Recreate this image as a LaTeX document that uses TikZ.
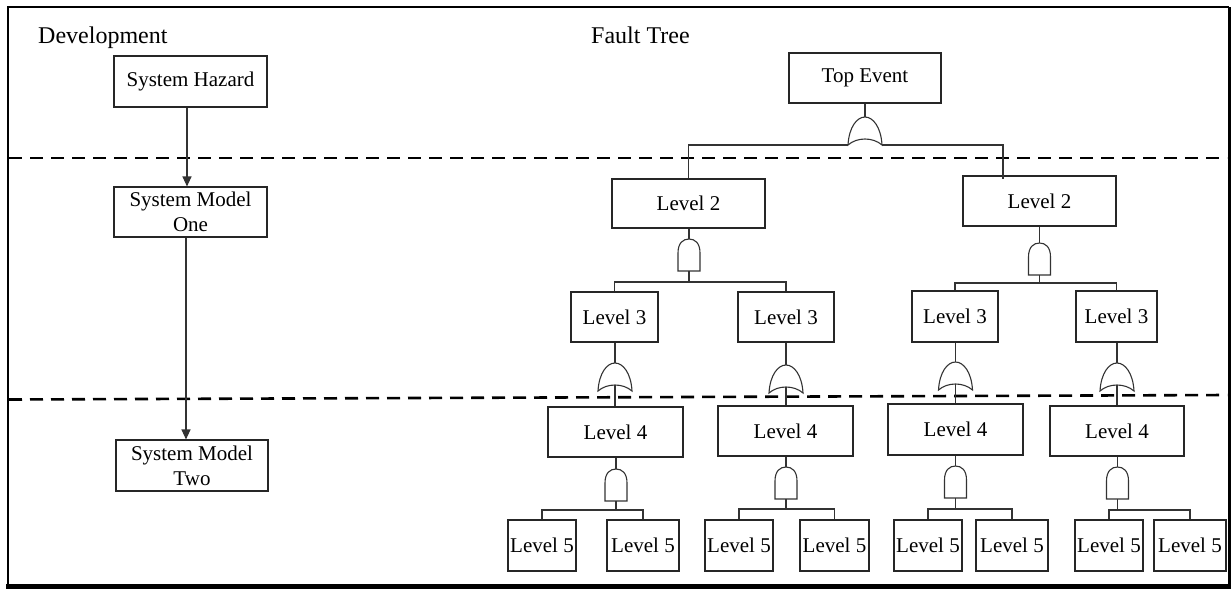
\documentclass[tikz,border=0pt]{standalone}
\usepackage{fontspec}
\setmainfont{Liberation Serif}
\usetikzlibrary{arrows.meta}
\tikzset{
  box/.style={draw=black!85, line width=1.1pt, inner sep=0pt, align=center,
    font=\fontsize{21}{25}\selectfont},
  head/.style={anchor=base west, inner sep=0pt, font=\fontsize{24}{28}\selectfont},
  conn/.style={draw=black!80, line width=1.1pt},
  gate/.style={draw=black!80, line width=1.1pt, fill=white},
  arr/.style={conn, -{Triangle[length=10pt,width=9pt]}},
  sep/.style={draw=black, line width=2.6pt, dash pattern=on 13pt off 8pt},
  orgate/.pic={
    \path[gate] (-17,28) .. controls (-16,10) and (-8,0) .. (0,0)
      .. controls (8,0) and (16,10) .. (17,28)
      .. controls (8,20) and (-8,20) .. (-17,28) -- cycle;
    \coordinate (-in) at (0,0);
    \coordinate (-out) at (0,22);
    \coordinate (-bl) at (-17,28);
    \coordinate (-br) at (17,28);
  },
  andgate/.pic={
    \path[gate] (-11,32) -- (-11,14) .. controls (-11,4) and (-6,0) .. (0,0)
      .. controls (6,0) and (11,4) .. (11,14) -- (11,32) -- cycle;
    \coordinate (-in) at (0,0);
    \coordinate (-out) at (0,32);
  }
}
\begin{document}
\begin{tikzpicture}[x=1pt,y=-1pt]
\useasboundingbox (0,0) rectangle (1231,590);
\fill[white] (0,0) rectangle (1231,590);
% frame
\draw[line width=2pt] (8,586) -- (8,7) -- (1229,7);
\draw[line width=3pt] (1229,7) -- (1229,586);
\draw[line width=4.5pt] (6,586.5) -- (1230.5,586.5);
% separators
\draw[sep] (9,158) -- (1227,158);
\draw[sep] (9,399.5) -- (1227,395);
% headings
\node[head] (hdev) at (38,43) {Development};
\node[head] (hft) at (591,43) {Fault Tree};
% development column
\node[box, minimum width=153pt, minimum height=51pt] (SH) at (190.5,81.5) {System Hazard};
\node[box, minimum width=153pt, minimum height=50pt] (SM1) at (190.5,212) {System Model\\One};
\node[box, minimum width=152pt, minimum height=51pt] (SM2) at (192,465.5) {System Model\\Two};
\draw[arr] ([xshift=-3.5pt]SH.south) -- ([xshift=-3.5pt]SM1.north);
\draw[arr] ([xshift=-4.5pt]SM1.south) -- ([xshift=-6pt]SM2.north);
% fault tree boxes
\node[box, minimum width=152pt, minimum height=50pt] (TE) at (865,78) {Top Event};
\node[box, minimum width=153pt, minimum height=49pt] (L2a) at (688.5,203.5) {Level 2};
\node[box, minimum width=153pt, minimum height=50pt] (L2b) at (1039.5,201) {Level 2};
\node[box, minimum width=87pt, minimum height=50pt] (L3a) at (614.5,317) {Level 3};
\node[box, minimum width=96pt, minimum height=50pt] (L3b) at (786,317) {Level 3};
\node[box, minimum width=86pt, minimum height=51pt] (L3c) at (955,316.5) {Level 3};
\node[box, minimum width=81pt, minimum height=51pt] (L3d) at (1116.5,316.5) {Level 3};
\node[box, minimum width=135pt, minimum height=50pt] (L4a) at (615.5,432) {Level 4};
\node[box, minimum width=135pt, minimum height=50pt] (L4b) at (785.5,431) {Level 4};
\node[box, minimum width=135pt, minimum height=51pt] (L4c) at (955.5,429.5) {Level 4};
\node[box, minimum width=134pt, minimum height=50pt] (L4d) at (1117,431) {Level 4};
\node[box, minimum width=68pt, minimum height=51pt] (L5a) at (542,545.5) {Level 5};
\node[box, minimum width=72pt, minimum height=51pt] (L5b) at (643,545.5) {Level 5};
\node[box, minimum width=68pt, minimum height=51pt] (L5c) at (739,545.5) {Level 5};
\node[box, minimum width=69pt, minimum height=51pt] (L5d) at (834.5,545.5) {Level 5};
\node[box, minimum width=68pt, minimum height=51pt] (L5e) at (928,545.5) {Level 5};
\node[box, minimum width=72pt, minimum height=51pt] (L5f) at (1012,545.5) {Level 5};
\node[box, minimum width=68pt, minimum height=51pt] (L5g) at (1109,545.5) {Level 5};
\node[box, minimum width=72pt, minimum height=51pt] (L5h) at (1190,545.5) {Level 5};
% gate positions
\coordinate (c0) at (865,117);
\coordinate (c1) at (689,239);
\coordinate (c2) at (1039.5,243);
\coordinate (c3a) at (615,363);
\coordinate (c3b) at (786,365);
\coordinate (c3c) at (955.5,362);
\coordinate (c3d) at (1117,363);
\coordinate (c4a) at (616,469);
\coordinate (c4b) at (786,467);
\coordinate (c4c) at (955.5,466);
\coordinate (c4d) at (1117.5,467);
% gates
\pic (g0) at (c0) {orgate};
\pic (g1) at (c1) {andgate};
\pic (g2) at (c2) {andgate};
\pic (o3a) at (c3a) {orgate};
\pic (o3b) at (c3b) {orgate};
\pic (o3c) at (c3c) {orgate};
\pic (o3d) at (c3d) {orgate};
\pic (a4a) at (c4a) {andgate};
\pic (a4b) at (c4b) {andgate};
\pic (a4c) at (c4c) {andgate};
\pic (a4d) at (c4d) {andgate};
% top level
\draw[conn] (TE.south) -- (g0-in);
\draw[conn] (g0-bl) -| (L2a.north);
\draw[conn] (g0-br) -| ([xshift=-36.5pt,yshift=-4pt]L2b.north);
% level 2 -> level 3
\draw[conn] (g1-in |- L2a.south) -- (g1-in);
\draw[conn] (g1-out) -- ++(0,11) -| (L3a.north);
\draw[conn] (g1-out) -- ++(0,11) -| (L3b.north);
\draw[conn] (g2-in |- L2b.south) -- (g2-in);
\draw[conn] (g2-out) -- ++(0,8) -| (L3c.north);
\draw[conn] (g2-out) -- ++(0,8) -| (L3d.north);
% level 3 -> level 4
\draw[conn] (o3a-in |- L3a.south) -- (o3a-in);
\draw[conn] (o3a-out) -- (o3a-out |- L4a.north);
\draw[conn] (o3b-in |- L3b.south) -- (o3b-in);
\draw[conn] (o3b-out) -- (o3b-out |- L4b.north);
\draw[conn] (o3c-in |- L3c.south) -- (o3c-in);
\draw[conn] (o3c-out) -- (o3c-out |- L4c.north);
\draw[conn] (o3d-in |- L3d.south) -- (o3d-in);
\draw[conn] (o3d-out) -- (o3d-out |- L4d.north);
% level 4 -> level 5
\draw[conn] (a4a-in |- L4a.south) -- (a4a-in);
\draw[conn] (a4a-out) -- ++(0,9) -| (L5a.north);
\draw[conn] (a4a-out) -- ++(0,9) -| (L5b.north);
\draw[conn] (a4b-in |- L4b.south) -- (a4b-in);
\draw[conn] (a4b-out) -- ++(0,10) -| (L5c.north);
\draw[conn] (a4b-out) -- ++(0,10) -| (L5d.north);
\draw[conn] (a4c-in |- L4c.south) -- (a4c-in);
\draw[conn] (a4c-out) -- ++(0,11) -| (L5e.north);
\draw[conn] (a4c-out) -- ++(0,11) -| (L5f.north);
\draw[conn] (a4d-in |- L4d.south) -- (a4d-in);
\draw[conn] (a4d-out) -- ++(0,11) -| (L5g.north);
\draw[conn] (a4d-out) -- ++(0,11) -| (L5h.north);
\end{tikzpicture}
\end{document}
